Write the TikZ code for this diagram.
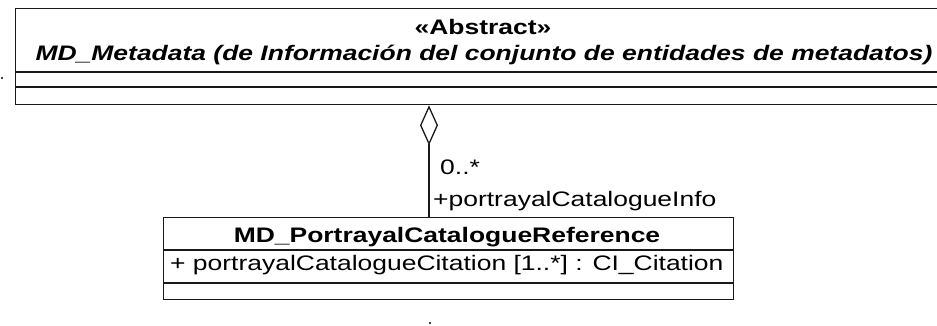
\documentclass[tikz,border=0pt]{standalone}
\usepackage{fontspec}
\setmainfont{Liberation Sans}[FakeStretch=1.26]
\usetikzlibrary{arrows.meta,positioning}

\begin{document}
\begin{tikzpicture}[x=1pt, y=-1pt, font=\fontsize{21}{25}\selectfont,
  umlline/.style={line width=1.3pt, black!90},
  classbox/.style={draw, umlline, anchor=north west, inner sep=0pt},
  lbl/.style={inner sep=0pt}]
% Picture frame
\useasboundingbox (0,0) rectangle (937,326);
\clip (0,0) rectangle (937,326);

% Abstract class (runs past the right edge)
\node[classbox, minimum width=960pt, minimum height=96pt] (mdClass) at (15,8) {};
\draw[umlline] (15,72) -- (960,72);
\draw[umlline] (15,87) -- (960,87);
\node[lbl, anchor=base] (stereo) at (483,35) {\bfseries «Abstract»};
\node[lbl, anchor=base] (mdName) at (484,61) {\bfseries\itshape MD\_Metadata (de Información del conjunto de entidades de metadatos)};

% Portrayal catalogue class
\node[classbox, minimum width=570pt, minimum height=82pt] (pcRef) at (163,217) {};
\draw[umlline] (163,250) -- (733,250);
\draw[umlline] (163,283) -- (733,283);
\node[lbl, anchor=base] (pcName) at (447,242) {\bfseries MD\_PortrayalCatalogueReference};
\node[lbl, anchor=base west] (pcAttr) at (170,270) {+ portrayalCatalogueCitation [1..*] : CI\_Citation};

% Aggregation
\coordinate (aggX) at (429,0);
\draw[umlline, {Diamond[open, length=40pt, width=18pt]}-] (mdClass.south -| aggX) -- (pcRef.north -| aggX);
\node[lbl, anchor=base west] (multEnd) at (440,175) {0..*};
\node[lbl, anchor=base west] (roleEnd) at (433,206) {+portrayalCatalogueInfo};

% Stray dots
\fill (2,78) circle (1.2pt);
\fill (430,323) circle (1.2pt);
\end{tikzpicture}
\end{document}
